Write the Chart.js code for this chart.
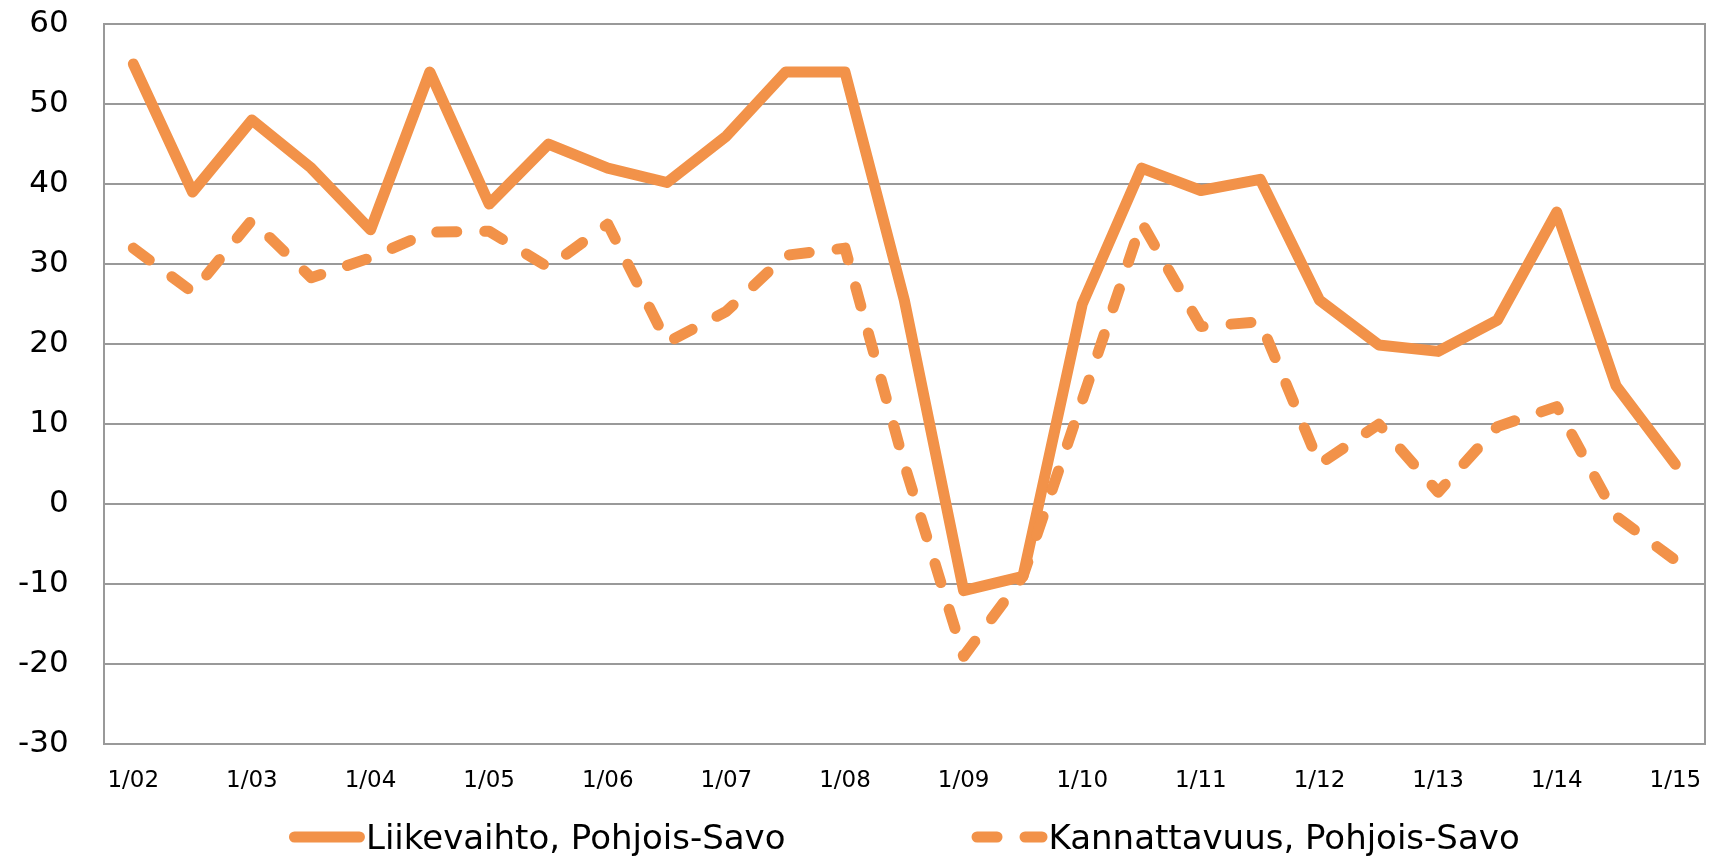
<!DOCTYPE html>
<html lang="fi">
<head>
<meta charset="utf-8">
<title>Liikevaihto ja kannattavuus, Pohjois-Savo</title>
<script src="https://cdn.jsdelivr.net/npm/chart.js@4.4.1/dist/chart.umd.min.js"></script>
<style>
  html,body{margin:0;padding:0;background:#fff;}
  canvas{display:block;}
</style>
</head>
<body>
<canvas id="chart" width="1711" height="856"></canvas>
<script>
// ===== Data =====
// half-year points, 1/02 ... 1/15 (only the "1/.." ones get a tick label)
const periods = [
  '1/02','2/02','1/03','2/03','1/04','2/04','1/05','2/05','1/06','2/06',
  '1/07','2/07','1/08','2/08','1/09','2/09','1/10','2/10','1/11','2/11',
  '1/12','2/12','1/13','2/13','1/14','2/14','1/15'
];
const liikevaihto = [
  55, 39, 48, 42, 34.3, 54, 37.5, 45, 42, 40.2,
  46, 54, 54, 25.5, -10.8, -9, 25, 42, 39.2, 40.6,
  25.5, 19.9, 19.1, 23, 36.5, 14.8, 5
];
const kannattavuus = [
  32, 26.5, 35.5, 28.3, 30.8, 34, 34.1, 29.6, 35, 20.2,
  24.1, 31.1, 32, 5, -19, -9, 13, 35.2, 22.2, 22.8,
  5, 10, 1.5, 9.7, 12.2, -1.5, -7
];
const seriesNames = ['Liikevaihto, Pohjois-Savo', 'Kannattavuus, Pohjois-Savo'];
const yMin = -30, yMax = 60, yStep = 10;

// ===== Style =====
const ORANGE = '#F29249';
const GRID = '#999999';
Chart.defaults.font.family = "'DejaVu Sans', sans-serif";
Chart.defaults.color = '#000';

// legend with line samples, centred under the plot area
const lineLegend = {
  id: 'lineLegend',
  afterDraw(chart, args, opts){
    const {ctx, chartArea} = chart;
    const sets = chart.data.datasets;
    ctx.save();
    ctx.font = `${opts.size}px ${opts.family}`;
    const lw = sets[0].borderWidth;
    const widths = sets.map(ds => lw + opts.sample + opts.textGap + ctx.measureText(ds.label).width);
    const total = widths.reduce((a,b)=>a+b,0) + opts.itemGap*(sets.length-1);
    let x = (chartArea.left + chartArea.right)/2 - total/2;
    const y = chart.height - opts.bottom;
    sets.forEach((ds,i)=>{
      ctx.beginPath();
      ctx.strokeStyle = ds.borderColor;
      ctx.lineWidth = ds.borderWidth;
      ctx.lineCap = 'round';
      ctx.setLineDash(ds.borderDash || []);
      ctx.moveTo(x + lw/2, y);
      ctx.lineTo(x + lw/2 + opts.sample, y);
      ctx.stroke();
      ctx.setLineDash([]);
      ctx.fillStyle = '#000';
      ctx.textBaseline = 'alphabetic';
      ctx.textAlign = 'left';
      ctx.fillText(ds.label, x + lw + opts.sample + opts.textGap, y + opts.baseline);
      x += widths[i] + opts.itemGap;
    });
    ctx.restore();
  }
};

new Chart(document.getElementById('chart'), {
  type: 'line',
  data: {
    labels: periods,
    datasets: [
      {
        label: seriesNames[0], data: liikevaihto,
        borderColor: ORANGE, backgroundColor: ORANGE, borderWidth: 11,
        borderCapStyle: 'round', borderJoinStyle: 'round',
        pointRadius: 0, tension: 0, order: 1
      },
      {
        label: seriesNames[1], data: kannattavuus,
        borderColor: ORANGE, backgroundColor: ORANGE, borderWidth: 11,
        borderDash: [20, 28], borderCapStyle: 'round', borderJoinStyle: 'round',
        pointRadius: 0, tension: 0, order: 0
      }
    ]
  },
  options: {
    responsive: false,
    animation: false,
    layout: { padding: { left: 18, right: 6, top: 24, bottom: 61 } },
    plugins: {
      legend: { display: false },
      tooltip: { enabled: false },
      lineLegend: { size: 34, family: "'DejaVu Sans', sans-serif", sample: 65, textGap: 1, itemGap: 186, bottom: 19, baseline: 12 }
    },
    scales: {
      x: {
        offset: true,
        grid: { color: 'transparent', drawOnChartArea: false, drawTicks: true, tickLength: 23, tickColor: 'transparent' },
        border: { color: GRID, width: 2 },
        ticks: {
          autoSkip: false, maxRotation: 0, padding: 0,
          font: { size: 23 },
          callback(v, i){ return i % 2 === 0 ? this.getLabelForValue(v) : ''; }
        }
      },
      y: {
        min: yMin, max: yMax,
        grid: { color: GRID, lineWidth: 2, drawTicks: true, tickLength: 35, tickColor: 'transparent' },
        border: { color: GRID, width: 2 },
        ticks: { stepSize: yStep, padding: 0, font: { size: 31 } }
      },
      y2: {
        position: 'right', min: yMin, max: yMax,
        grid: { display: false, drawTicks: false },
        border: { color: GRID, width: 2 },
        ticks: { display: false }
      }
    }
  },
  plugins: [lineLegend]
});
</script>
</body>
</html>
